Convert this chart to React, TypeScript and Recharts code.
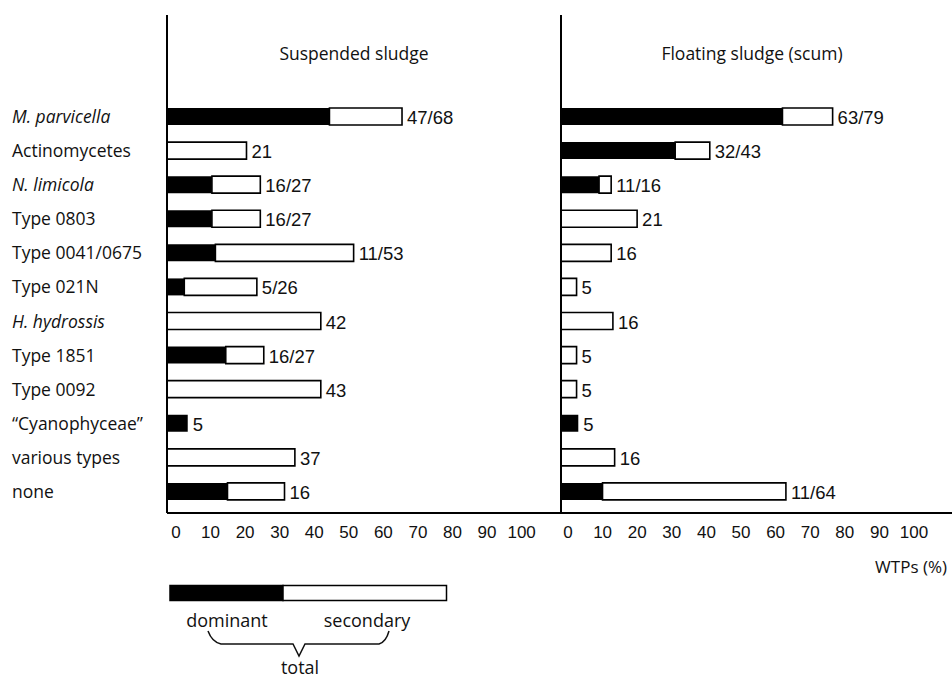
import React from 'react';
import { BarChart, Bar, XAxis, YAxis, LabelList, Legend } from 'recharts';

// ---- data ----
const categories = [
  'M. parvicella',
  'Actinomycetes',
  'N. limicola',
  'Type 0803',
  'Type 0041/0675',
  'Type 021N',
  'H. hydrossis',
  'Type 1851',
  'Type 0092',
  '\u201CCyanophyceae\u201D',
  'various types',
  'none',
];
const italicCategories = ['M. parvicella', 'N. limicola', 'H. hydrossis'];

// Suspended sludge (% of WTPs): dominant part and total bar length
const suspendedDominant = [47, 0, 13, 13, 14, 5, 0, 17, 0, 6, 0, 17.5];
const suspendedTotal = [68, 23, 27, 27, 54, 26, 44.5, 28, 44.5, 6, 37, 34];
const suspendedLabels = ['47/68', '21', '16/27', '16/27', '11/53', '5/26', '42', '16/27', '43', '5', '37', '16'];

// Floating sludge (scum)
const floatingDominant = [64, 33, 11, 0, 0, 0, 0, 0, 0, 5, 0, 12];
const floatingTotal = [78.5, 43, 14.5, 22, 14.5, 4.5, 15, 4.5, 4.5, 5, 15.5, 65];
const floatingLabels = ['63/79', '32/43', '11/16', '21', '16', '5', '16', '5', '5', '5', '16', '11/64'];

const xTicks = [0, 10, 20, 30, 40, 50, 60, 70, 80, 90, 100];
const panelTitles = ['Suspended sludge', 'Floating sludge (scum)'];
const axisTitle = 'WTPs (%)';
const legendLabels = ['dominant', 'secondary', 'total'];

const buildRows = (dom: number[], total: number[], labels: string[]) =>
  categories.map((name, i) => ({
    name,
    dom: dom[i],
    sec: Math.max(0, total[i] - dom[i]),
    label: labels[i],
  }));

const suspendedRows = buildRows(suspendedDominant, suspendedTotal, suspendedLabels);
const floatingRows = buildRows(floatingDominant, floatingTotal, floatingLabels);

// ---- styles ----
const INK = '#111';
const SANS = '"Open Sans", "Noto Sans", sans-serif';
const NUM = '"Liberation Sans", Arial, sans-serif';
const CHART_H = 679;
const MARGIN_TOP = 15;
const XAXIS_H = 30;
const MARGIN_BOTTOM = 136;
const Y_PADDING = { top: 84, bottom: 5 };
const BAR_SIZE = 17;

const CategoryTick = (props: any) => {
  const { y, payload } = props;
  const italic = italicCategories.includes(payload.value);
  return (
    <text
      x={12}
      y={y}
      dominantBaseline="central"
      textAnchor="start"
      fontFamily={SANS}
      fontSize={17.5}
      fontStyle={italic ? 'italic' : 'normal'}
      fill={INK}
    >
      {payload.value}
    </text>
  );
};

const makeNumberTick = (dx: number) => (props: any) => {
  const { x, y, payload } = props;
  return (
    <text
      x={x + dx}
      y={y + 19}
      dominantBaseline="central"
      textAnchor="middle"
      fontFamily={NUM}
      fontSize={17}
      fill={INK}
    >
      {payload.value}
    </text>
  );
};

// The label sits at the end of the stack: on the secondary segment when it exists,
// otherwise on the dominant segment.
const domLabelAccessor = (entry: any) => {
  const p = entry && entry.payload;
  if (!p) return '';
  return p.sec > 0 ? '' : p.label;
};
const secLabelAccessor = (entry: any) => {
  const p = entry && entry.payload;
  if (!p) return '';
  return p.sec > 0 ? p.label : '';
};

const ValueLabel = (props: any) => {
  const { x, y, width, height, value } = props;
  if (value === '' || value == null) return null;
  return (
    <text
      x={Number(x) + Number(width) + 5}
      y={Number(y) + Number(height) / 2 + 1}
      dominantBaseline="central"
      textAnchor="start"
      fontFamily={NUM}
      fontSize={18.5}
      fill={INK}
    >
      {value}
    </text>
  );
};

const LegendKey = () => (
  <svg width={320} height={109} style={{ display: 'block' }}>
    <rect x={20} y={15.5} width={113} height={15} fill="#000" stroke="#000" strokeWidth={1.5} />
    <rect x={133} y={15.5} width={163.5} height={15} fill="#fff" stroke="#000" strokeWidth={1.5} />
    <text x={77} y={50} textAnchor="middle" dominantBaseline="central" fontFamily={SANS} fontSize={18} fill={INK}>
      {legendLabels[0]}
    </text>
    <text x={217} y={50} textAnchor="middle" dominantBaseline="central" fontFamily={SANS} fontSize={18} fill={INK}>
      {legendLabels[1]}
    </text>
    <path
      d="M58,61 Q62,72 71,74 L143,74 L149,86 L155,74 L229,74 Q236,72 239,61"
      fill="none"
      stroke={INK}
      strokeWidth={1.5}
    />
    <text x={150} y={97} textAnchor="middle" dominantBaseline="central" fontFamily={SANS} fontSize={18} fill={INK}>
      {legendLabels[2]}
    </text>
  </svg>
);

export default function App() {
  return (
    <div
      style={{
        position: 'absolute',
        left: 0,
        top: 0,
        width: 952,
        height: 679,
        background: '#fff',
        overflow: 'hidden',
      }}
    >
      {/* Left panel: suspended sludge */}
      <div style={{ position: 'absolute', left: 0, top: 0 }}>
        <BarChart
          width={561}
          height={CHART_H}
          layout="vertical"
          data={suspendedRows}
          margin={{ top: MARGIN_TOP, right: 0, bottom: MARGIN_BOTTOM, left: 0 }}
        >
          <XAxis
            type="number"
            domain={[0, 114]}
            ticks={xTicks}
            height={XAXIS_H}
            tickSize={0}
            tickMargin={0}
            tickLine={false}
            axisLine={{ stroke: '#000', strokeWidth: 2 }}
            tick={makeNumberTick(9)}
            interval={0}
          />
          <YAxis
            type="category"
            dataKey="name"
            width={167}
            padding={Y_PADDING}
            tickLine={false}
            tickSize={0}
            axisLine={{ stroke: '#000', strokeWidth: 2 }}
            tick={<CategoryTick />}
            interval={0}
          />
          <Bar dataKey="dom" stackId="s" fill="#000" barSize={BAR_SIZE} isAnimationActive={false}>
            <LabelList valueAccessor={domLabelAccessor} content={<ValueLabel />} />
          </Bar>
          <Bar
            dataKey="sec"
            stackId="s"
            fill="#fff"
            stroke="#000"
            strokeWidth={1.6}
            barSize={BAR_SIZE}
            isAnimationActive={false}
          >
            <LabelList valueAccessor={secLabelAccessor} content={<ValueLabel />} />
          </Bar>
          <text
            x={354}
            y={53}
            textAnchor="middle"
            dominantBaseline="central"
            fontFamily={SANS}
            fontSize={17.5}
            fill={INK}
          >
            {panelTitles[0]}
          </text>
          <Legend
            layout="horizontal"
            verticalAlign="middle"
            align="center"
            content={() => <LegendKey />}
            wrapperStyle={{ left: 150, top: 570, width: 320, height: 109 }}
          />
        </BarChart>
      </div>

      {/* Right panel: floating sludge */}
      <div style={{ position: 'absolute', left: 551, top: 0 }}>
        <BarChart
          width={401}
          height={CHART_H}
          layout="vertical"
          data={floatingRows}
          margin={{ top: MARGIN_TOP, right: 0, bottom: MARGIN_BOTTOM, left: 9 }}
        >
          <XAxis
            type="number"
            domain={[0, 113]}
            ticks={xTicks}
            height={XAXIS_H}
            tickSize={0}
            tickMargin={0}
            tickLine={false}
            axisLine={{ stroke: '#000', strokeWidth: 2 }}
            tick={makeNumberTick(7)}
            interval={0}
          />
          <YAxis
            type="category"
            dataKey="name"
            width={1}
            padding={Y_PADDING}
            tickLine={false}
            tick={false}
            axisLine={{ stroke: '#000', strokeWidth: 2 }}
          />
          <Bar dataKey="dom" stackId="f" fill="#000" barSize={BAR_SIZE} isAnimationActive={false}>
            <LabelList valueAccessor={domLabelAccessor} content={<ValueLabel />} />
          </Bar>
          <Bar
            dataKey="sec"
            stackId="f"
            fill="#fff"
            stroke="#000"
            strokeWidth={1.6}
            barSize={BAR_SIZE}
            isAnimationActive={false}
          >
            <LabelList valueAccessor={secLabelAccessor} content={<ValueLabel />} />
          </Bar>
          <text
            x={201}
            y={53}
            textAnchor="middle"
            dominantBaseline="central"
            fontFamily={SANS}
            fontSize={17.5}
            fill={INK}
          >
            {panelTitles[1]}
          </text>
          <text
            x={396}
            y={566}
            textAnchor="end"
            dominantBaseline="central"
            fontFamily={SANS}
            fontSize={17}
            fill={INK}
          >
            {axisTitle}
          </text>
        </BarChart>
      </div>
    </div>
  );
}
